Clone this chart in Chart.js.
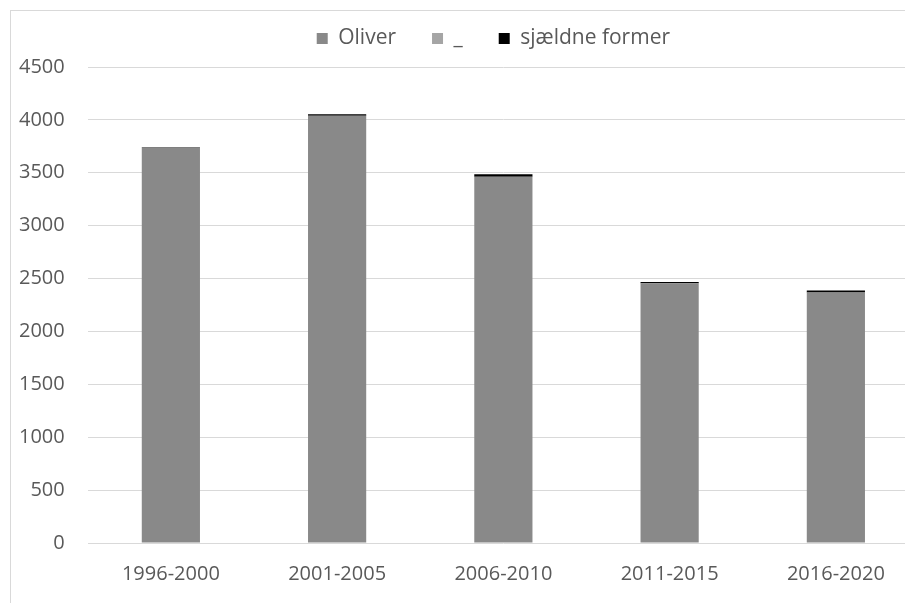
<!DOCTYPE html>
<html>
<head>
<meta charset="utf-8">
<script src="https://cdn.jsdelivr.net/npm/chart.js@4"></script>
<style>
    html, body { margin: 0; padding: 0; background: #fff; overflow: hidden; }
    #frame {
        position: absolute; left: 10px; top: 10px;
        width: 925px; height: 620px;
        border: 1px solid #d9d9d9; box-sizing: border-box;
    }
    #chart { display: block; }
</style>
</head>
<body>
<div id="frame"><canvas id="chart" width="923" height="618"></canvas></div>
<script>
const periods = ['1996-2000', '2001-2005', '2006-2010', '2011-2015', '2016-2020'];
const oliverValues = [3735, 4038, 3462, 2455, 2367];
const blankValues = [0, 0, 0, 0, 0];
const rareValues = [5, 15, 25, 12, 20];
const yTicks = [0, 500, 1000, 1500, 2000, 2500, 3000, 3500, 4000, 4500];

const textColor = '#595959';
const fontFamily = '"Open Sans", "Noto Sans", sans-serif';

const ctx = document.getElementById('chart').getContext('2d');

// extra room under the legend, and nudge it a bit to the left
const legendTweak = {
    id: 'legendTweak',
    beforeInit(chart) {
        const fit = chart.legend.fit;
        chart.legend.fit = function () {
            fit.bind(chart.legend)();
            this.height += 8;
        };
    },
    afterLayout(chart) {
        chart.legend.left -= 10;
        chart.legend.right -= 10;
    }
};

new Chart(ctx, {
    type: 'bar',
    data: {
        labels: periods,
        datasets: [
            { label: 'Oliver', data: oliverValues, backgroundColor: '#898989' },
            { label: '_', data: blankValues, backgroundColor: '#a5a5a5' },
            { label: 'sjældne former', data: rareValues, backgroundColor: '#000000' }
        ]
    },
    options: {
        responsive: false,
        animation: false,
        layout: { padding: { left: -15, right: 15, top: -19, bottom: 32 } },
        datasets: {
            bar: { categoryPercentage: 1, barPercentage: 0.35 }
        },
        scales: {
            x: {
                stacked: true,
                grid: { display: false },
                border: { display: false },
                afterFit: axis => { axis.paddingLeft = 0; axis.paddingRight = 0; },
                ticks: {
                    color: textColor,
                    font: { family: fontFamily, size: 20 },
                    padding: 11,
                    maxRotation: 0
                }
            },
            y: {
                stacked: true,
                min: 0,
                max: 4500,
                afterBuildTicks: axis => { axis.ticks = yTicks.map(v => ({ value: v })); },
                grid: { color: '#d9d9d9', lineWidth: 1, drawTicks: false },
                border: { display: false },
                ticks: {
                    color: textColor,
                    font: { family: fontFamily, size: 20 },
                    padding: 23,
                    callback: value => String(value)
                }
            }
        },
        plugins: {
            legend: {
                position: 'top',
                fullSize: false,
                labels: {
                    color: textColor,
                    font: { family: fontFamily, size: 21 },
                    boxWidth: 11,
                    boxHeight: 11,
                    padding: 36
                }
            },
            tooltip: { enabled: false }
        }
    },
    plugins: [legendTweak]
});
</script>
</body>
</html>
